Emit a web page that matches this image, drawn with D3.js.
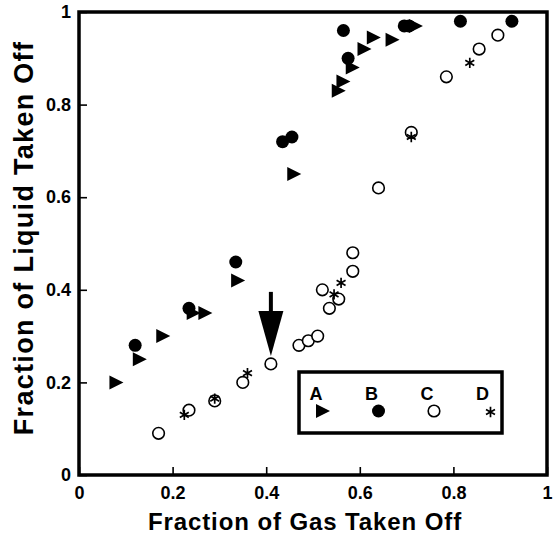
<!DOCTYPE html>
<html>
<head>
<meta charset="utf-8">
<script src="https://cdn.jsdelivr.net/npm/d3@7"></script>
<style>
  body { margin: 0; background: #fff; }
  svg { display: block; font-family: "Liberation Sans", Arial, Helvetica, sans-serif; }
</style>
</head>
<body>
<svg id="chart"></svg>
<script>
// [gas fraction, liquid fraction]
var seriesA = [[0.08,0.20],[0.13,0.25],[0.18,0.30],[0.245,0.35],[0.27,0.35],[0.34,0.42],
    [0.46,0.65],[0.555,0.83],[0.565,0.85],[0.585,0.88],[0.61,0.92],[0.63,0.945],[0.67,0.94],[0.72,0.97]];
var seriesB = [[0.12,0.28],[0.235,0.36],[0.335,0.46],[0.435,0.72],[0.455,0.73],[0.565,0.96],
    [0.575,0.90],[0.695,0.97],[0.705,0.97],[0.815,0.98],[0.925,0.98]];
var seriesC = [[0.17,0.09],[0.235,0.14],[0.29,0.16],[0.35,0.20],[0.41,0.24],[0.47,0.28],
    [0.49,0.29],[0.51,0.30],[0.535,0.36],[0.52,0.40],[0.555,0.38],[0.585,0.44],[0.585,0.48],
    [0.64,0.62],[0.71,0.74],[0.785,0.86],[0.855,0.92],[0.895,0.95]];
var seriesD = [[0.225,0.13],[0.29,0.165],[0.36,0.22],[0.545,0.39],[0.56,0.415],[0.71,0.73],[0.835,0.89]];

var xTicks = [0, 0.2, 0.4, 0.6, 0.8, 1];
var xTickLabels = ["0", "0.2", "0.4", "0.6", "0.8", "1"];
var yTicks = [0, 0.2, 0.4, 0.6, 0.8, 1];
var yTickLabels = ["0", "0.2", "0.4", "0.6", "0.8", "1"];
var legendKeys = ["A", "B", "C", "D"];
var arrowTarget = [0.41, 0.24];

function drawChart() {
    var svgWidth = 556, svgHeight = 539;
    var margin = { top: 12, right: 9, bottom: 64, left: 79 };
    var width = svgWidth - margin.left - margin.right;
    var height = svgHeight - margin.top - margin.bottom;

    var svg = d3.select('#chart').attr("width", svgWidth).attr("height", svgHeight);
    var g = svg.append("g").attr("transform", "translate(" + margin.left + "," + margin.top + ")");

    var x = d3.scaleLinear().domain([0, 1]).range([0, width]);
    var y = d3.scaleLinear().domain([0, 1]).range([height, 0]);

    // bottom axis, ticks pointing inward
    var xAxis = g.append("g")
        .attr("transform", "translate(0," + height + ")")
        .call(d3.axisBottom(x).tickValues(xTicks)
            .tickFormat(function(d, i) { return xTickLabels[i]; })
            .tickSizeInner(-8).tickSizeOuter(0).tickPadding(11));
    xAxis.select(".domain").remove();

    // left axis
    var yAxis = g.append("g")
        .call(d3.axisLeft(y).tickValues(yTicks)
            .tickFormat(function(d, i) { return yTickLabels[i]; })
            .tickSizeInner(-8).tickSizeOuter(0).tickPadding(8));
    yAxis.select(".domain").remove();

    g.selectAll(".tick line").attr("stroke", "#000").attr("stroke-width", 1.6);
    g.selectAll(".tick text")
        .attr("fill", "#000")
        .style("font-size", "18px")
        .style("font-weight", "bold");

    // frame
    g.append("rect")
        .attr("width", width).attr("height", height)
        .attr("fill", "none").attr("stroke", "#000").attr("stroke-width", 3.5);

    // axis titles
    g.append("text")
        .attr("x", width / 2 - 8).attr("y", height + 55)
        .attr("text-anchor", "middle")
        .style("font-size", "24px").style("font-weight", "bold").style("letter-spacing", "0.9px")
        .text("Fraction of Gas Taken Off");

    svg.append("text")
        .attr("transform", "translate(33," + 238 + ") rotate(-90)")
        .attr("text-anchor", "middle")
        .style("font-size", "27px").style("font-weight", "bold").style("letter-spacing", "1.3px")
        .text("Fraction of Liquid Taken Off");

    var triPath = "M-7,-7L7,0L-7,7Z";
    var star = d3.symbol(d3.symbolAsterisk, 75)();

    // A - triangles
    g.append("g").selectAll("path")
        .data(seriesA).enter().append("path")
        .attr("d", triPath)
        .attr("transform", function(d) { return "translate(" + x(d[0]) + "," + y(d[1]) + ")"; })
        .attr("fill", "#000");

    // B - filled circles
    g.append("g").selectAll("circle")
        .data(seriesB).enter().append("circle")
        .attr("cx", function(d) { return x(d[0]); })
        .attr("cy", function(d) { return y(d[1]); })
        .attr("r", 6.5)
        .attr("fill", "#000");

    // C - open circles
    g.append("g").selectAll("circle")
        .data(seriesC).enter().append("circle")
        .attr("cx", function(d) { return x(d[0]); })
        .attr("cy", function(d) { return y(d[1]); })
        .attr("r", 5.8)
        .attr("fill", "#fff").attr("stroke", "#000").attr("stroke-width", 1.6);

    // D - asterisks
    g.append("g").selectAll("path")
        .data(seriesD).enter().append("path")
        .attr("d", star)
        .attr("transform", function(d) { return "translate(" + x(d[0]) + "," + y(d[1]) + ")"; })
        .attr("fill", "none").attr("stroke", "#000").attr("stroke-width", 1.7);

    // arrow pointing at the highlighted point
    var ax = x(arrowTarget[0]), ay = y(arrowTarget[1]) - 8;
    g.append("line")
        .attr("x1", ax).attr("x2", ax)
        .attr("y1", ay - 64).attr("y2", ay - 40)
        .attr("stroke", "#000").attr("stroke-width", 4);
    g.append("path")
        .attr("d", "M" + (ax - 12.5) + "," + (ay - 45) + "L" + (ax + 12.5) + "," + (ay - 45) + "L" + ax + "," + ay + "Z")
        .attr("fill", "#000");

    // legend
    var lg = svg.append("g").attr("transform", "translate(299,372)");
    lg.append("rect")
        .attr("width", 203).attr("height", 61)
        .attr("fill", "#fff").attr("stroke", "#000").attr("stroke-width", 3.5);

    var item = lg.selectAll(".key")
        .data(legendKeys).enter().append("g")
        .attr("class", "key")
        .attr("transform", function(d, i) { return "translate(" + (24 + i * 55.5) + ",0)"; });

    item.append("text")
        .attr("x", -7).attr("y", 28)
        .attr("text-anchor", "middle")
        .style("font-size", "18px").style("font-weight", "bold")
        .text(function(d) { return d; });

    item.each(function(d, i) {
        var s = d3.select(this);
        if (i === 0) {
            s.append("path").attr("d", triPath).attr("transform", "translate(0,39)").attr("fill", "#000");
        } else if (i === 1) {
            s.append("circle").attr("cy", 39).attr("r", 6.5).attr("fill", "#000");
        } else if (i === 2) {
            s.append("circle").attr("cy", 39).attr("r", 5.8)
                .attr("fill", "#fff").attr("stroke", "#000").attr("stroke-width", 1.6);
        } else {
            s.append("path").attr("d", star).attr("transform", "translate(1,40)")
                .attr("fill", "none").attr("stroke", "#000").attr("stroke-width", 1.7);
        }
    });
}

drawChart();
</script>
</body>
</html>
